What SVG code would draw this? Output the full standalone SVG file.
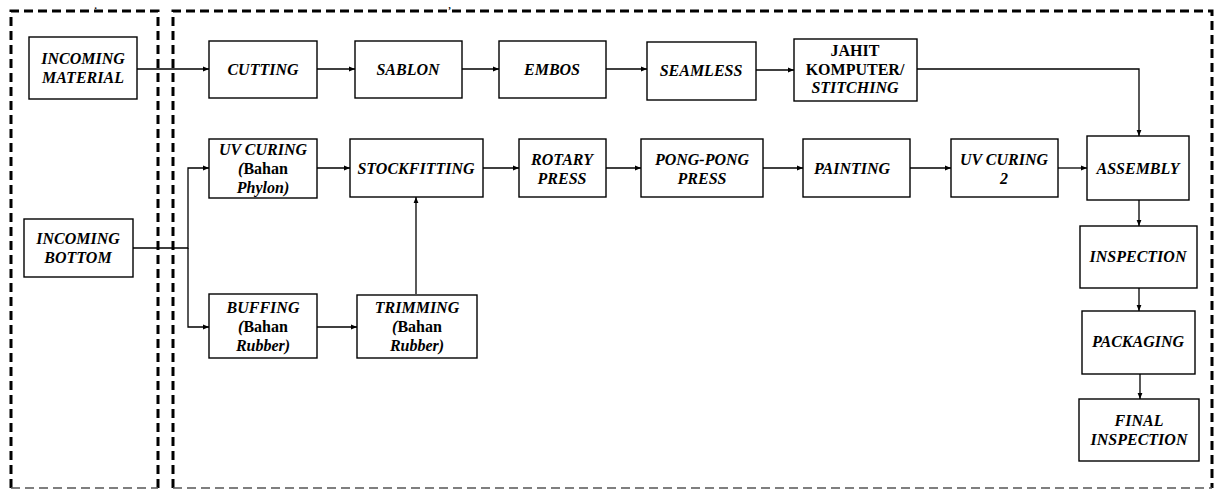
<svg xmlns="http://www.w3.org/2000/svg" width="1220" height="490" viewBox="0 0 1220 490">
<style>
.bx{fill:#fff;stroke:#000;stroke-width:1.4}
.dash{fill:none;stroke:#000;stroke-width:3;stroke-dasharray:9 5}
.dashb{fill:none;stroke:#555;stroke-width:1.6;stroke-dasharray:9 5}
.ln{fill:none;stroke:#000;stroke-width:1.3}
text{font-family:"Liberation Serif","Times New Roman",serif;font-size:16px;font-weight:bold;font-style:italic;text-anchor:middle;fill:#000}
.n{font-style:normal}
.tiny{font-size:10px}
</style>
<defs>
<marker id="ah" viewBox="0 0 10 10" refX="10" refY="5" markerWidth="6" markerHeight="6" orient="auto" markerUnits="userSpaceOnUse">
<path d="M0,1 L10,5 L0,9 z" fill="#000"/>
</marker>
</defs>
<path class="dash" d="M11,488 V11 H158 V488"/>
<path class="dashb" d="M11,488 H158"/>
<path class="dash" d="M173,488 V11 H1212 V488"/>
<path class="dashb" d="M173,488 H1212"/>
<text class="tiny" x="96" y="9">.</text>
<text class="tiny" x="450" y="9">,</text>
<g id="connectors">
<path class="ln" d="M137,69 H209" marker-end="url(#ah)"/>
<path class="ln" d="M317,69 H355" marker-end="url(#ah)"/>
<path class="ln" d="M462,69 H499" marker-end="url(#ah)"/>
<path class="ln" d="M606,69 H647" marker-end="url(#ah)"/>
<path class="ln" d="M756,70 H794" marker-end="url(#ah)"/>
<path class="ln" d="M917,69 H1139 V136" marker-end="url(#ah)"/>
<path class="ln" d="M133,248 H188 V168 H209" marker-end="url(#ah)"/>
<path class="ln" d="M188,248 V327 H209" marker-end="url(#ah)"/>
<path class="ln" d="M317,327 H357" marker-end="url(#ah)"/>
<path class="ln" d="M416,294 V197" marker-end="url(#ah)"/>
<path class="ln" d="M317,168 H350" marker-end="url(#ah)"/>
<path class="ln" d="M483,168 H519" marker-end="url(#ah)"/>
<path class="ln" d="M606,168 H641" marker-end="url(#ah)"/>
<path class="ln" d="M763,168 H803" marker-end="url(#ah)"/>
<path class="ln" d="M898,168 H951" marker-end="url(#ah)"/>
<path class="ln" d="M1058,168 H1087" marker-end="url(#ah)"/>
<path class="ln" d="M1139,200 V226" marker-end="url(#ah)"/>
<path class="ln" d="M1139,288 V311" marker-end="url(#ah)"/>
<path class="ln" d="M1140,374 V399" marker-end="url(#ah)"/>
</g>
<g id="incoming-material"><rect class="bx" x="29" y="37" width="108" height="62"/><text x="83" y="64">INCOMING</text><text x="83" y="83">MATERIAL</text></g>
<g id="cutting"><rect class="bx" x="209" y="41" width="108" height="57"/><text x="263" y="75">CUTTING</text></g>
<g id="sablon"><rect class="bx" x="355" y="41" width="107" height="57"/><text x="408" y="75">SABLON</text></g>
<g id="embos"><rect class="bx" x="499" y="41" width="107" height="57"/><text x="552" y="75">EMBOS</text></g>
<g id="seamless"><rect class="bx" x="647" y="42" width="109" height="58"/><text x="701" y="76">SEAMLESS</text></g>
<g id="jahit"><rect class="bx" x="794" y="39" width="123" height="62"/><text class="n" x="855" y="56">JAHIT</text><text class="n" x="855" y="75">KOMPUTER/</text><text x="855" y="93">STITCHING</text></g>
<g id="uv-curing"><rect class="bx" x="209" y="139" width="108" height="59"/><text x="263" y="155">UV CURING</text><text x="263" y="174"><tspan>(</tspan><tspan class="n">Bahan</tspan></text><text x="263" y="193">Phylon)</text></g>
<g id="stockfitting"><rect class="bx" x="350" y="139" width="133" height="58"/><text x="416" y="174">STOCKFITTING</text></g>
<g id="rotary-press"><rect class="bx" x="519" y="139" width="87" height="58"/><text x="562" y="165">ROTARY</text><text x="562" y="184">PRESS</text></g>
<g id="pong-pong-press"><rect class="bx" x="641" y="139" width="122" height="58"/><text x="702" y="165">PONG-PONG</text><text x="702" y="184">PRESS</text></g>
<g id="painting"><rect class="bx" x="803" y="139" width="107" height="58"/><text x="852" y="174">PAINTING</text></g>
<g id="uv-curing-2"><rect class="bx" x="951" y="139" width="107" height="58"/><text x="1004" y="165">UV CURING</text><text x="1004" y="184">2</text></g>
<g id="assembly"><rect class="bx" x="1087" y="136" width="102" height="64"/><text x="1138" y="174">ASSEMBLY</text></g>
<g id="incoming-bottom"><rect class="bx" x="24" y="219" width="109" height="58"/><text x="78" y="244">INCOMING</text><text x="78" y="263">BOTTOM</text></g>
<g id="buffing"><rect class="bx" x="209" y="294" width="108" height="64"/><text x="263" y="313">BUFFING</text><text x="263" y="332"><tspan>(</tspan><tspan class="n">Bahan</tspan></text><text x="263" y="351">Rubber)</text></g>
<g id="trimming"><rect class="bx" x="357" y="295" width="120" height="63"/><text x="417" y="313">TRIMMING</text><text x="417" y="332"><tspan>(</tspan><tspan class="n">Bahan</tspan></text><text x="417" y="351">Rubber)</text></g>
<g id="inspection"><rect class="bx" x="1080" y="226" width="117" height="62"/><text x="1138" y="262">INSPECTION</text></g>
<g id="packaging"><rect class="bx" x="1082" y="311" width="113" height="63"/><text x="1138" y="347">PACKAGING</text></g>
<g id="final-inspection"><rect class="bx" x="1079" y="399" width="120" height="62"/><text x="1139" y="426">FINAL</text><text x="1139" y="445">INSPECTION</text></g>
</svg>
